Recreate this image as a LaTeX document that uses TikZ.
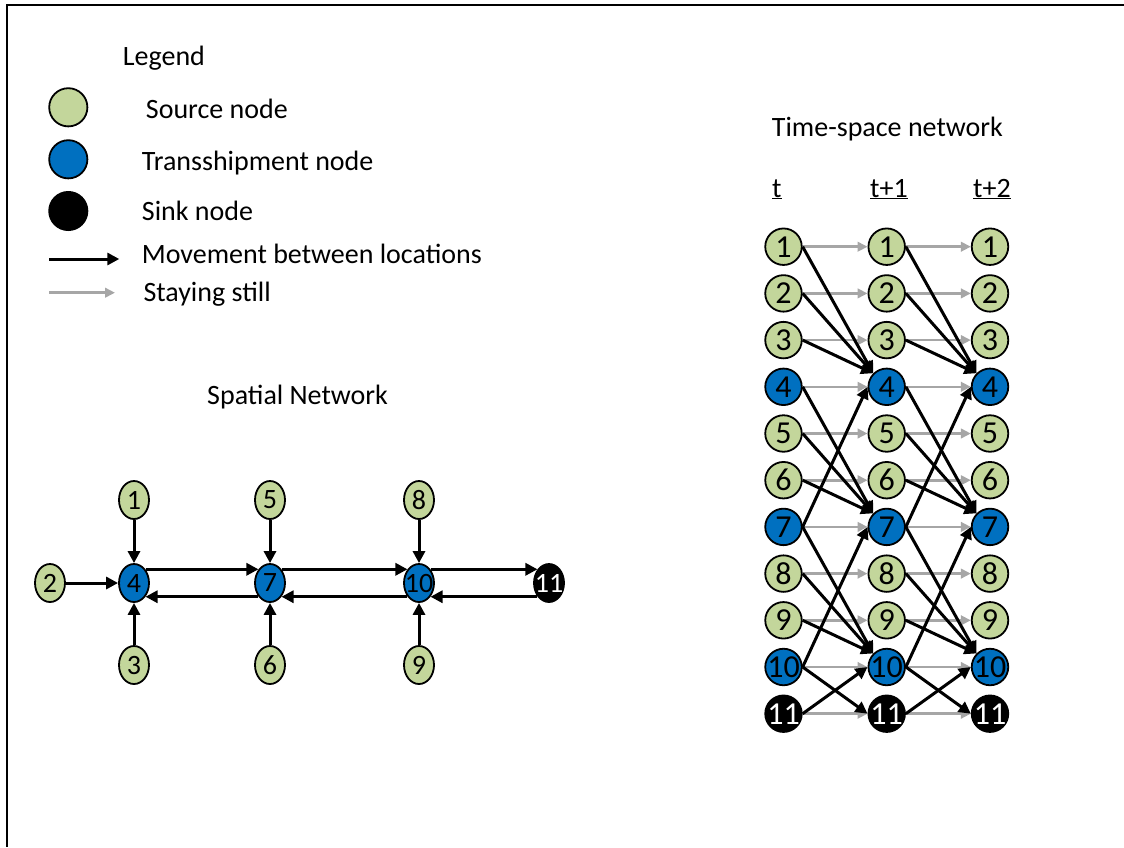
\documentclass[tikz,border=0pt]{standalone}
\usepackage{fontspec}
\setmainfont{Carlito}
\usetikzlibrary{arrows.meta,shapes.geometric}

\definecolor{srcgreen}{HTML}{C3D69B}
\definecolor{trnblue}{HTML}{0070C0}
\definecolor{staygray}{HTML}{A6A6A6}

\begin{document}
\begin{tikzpicture}[x=1pt,y=-1pt,font=\fontsize{28}{34}\selectfont,
    srcnode/.style={circle,draw=black,line width=1.8pt,fill=srcgreen,inner sep=-4pt,minimum size=36.5pt,
        font=\fontsize{32}{38}\selectfont},
    trnnode/.style={srcnode,fill=trnblue},
    snknode/.style={srcnode,fill=black,text=white},
    spnode/.style={ellipse,draw=black,line width=1.8pt,fill=srcgreen,inner xsep=-7pt,inner ysep=0pt,
        minimum width=30pt,minimum height=38pt},
    txt/.style={anchor=base west,inner sep=0pt},
    movearr/.style={line width=3pt,-{Triangle[length=12pt,width=12pt]}},
    stayarr/.style={line width=2.6pt,staygray,-{Triangle[length=10pt,width=9.5pt]}}]
    \useasboundingbox (0,0) rectangle (1124,847);
    \draw[line width=1.8pt] (1124,5) -- (7,5) -- (7,847);

    % legend
    \node[txt] (legend) at (122.7,65.5) {Legend};
    \node[srcnode,minimum size=38.2pt] (lsrc) at (68.3,107.3) {};
    \node[trnnode,minimum size=38.2pt] (ltrn) at (68.3,159.3) {};
    \node[snknode,minimum size=38.2pt] (lsnk) at (68.3,211) {};
    \node[txt] (tsrc) at (145.7,118) {Source node};
    \node[txt] (ttrn) at (141.7,170) {Transshipment node};
    \node[txt] (tsnk) at (141.7,220.5) {Sink node};
    \node[txt] (tmove) at (141.7,263) {Movement between locations};
    \node[txt] (tstay) at (143.3,301) {Staying still};
    \coordinate (mvA) at (49.3,259);
    \coordinate (mvB) at (119.3,259);
    \coordinate (stA) at (49.3,292.7);
    \coordinate (stB) at (115,292.7);
    \draw[movearr] (mvA) -- (mvB);
    \draw[stayarr] (stA) -- (stB);

    % spatial network
    \node[txt] (sptitle) at (207,404) {Spatial Network};
    \node[spnode] (s1) at (134,500) {1};
    \node[spnode] (s2) at (50,583) {2};
    \node[spnode] (s3) at (134,665) {3};
    \node[spnode,fill=trnblue] (s4) at (134,583) {4};
    \node[spnode] (s5) at (270,500) {5};
    \node[spnode] (s6) at (270,665) {6};
    \node[spnode,fill=trnblue] (s7) at (270,583) {7};
    \node[spnode] (s8) at (419,500) {8};
    \node[spnode] (s9) at (419,665) {9};
    \node[spnode,fill=trnblue] (s10) at (419,583) {10};
    \node[spnode,fill=black,text=white] (s11) at (549,583) {11};
    \draw[movearr] (s1.south) -- (s4.north);
    \draw[movearr] (s3.north) -- (s4.south);
    \draw[movearr] (s2.east) -- (s4.west);
    \draw[movearr] (s5.south) -- (s7.north);
    \draw[movearr] (s6.north) -- (s7.south);
    \draw[movearr] (s8.south) -- (s10.north);
    \draw[movearr] (s9.north) -- (s10.south);
    \draw[movearr] (s4.50) -- (s7.130);
    \draw[movearr] (s7.-130) -- (s4.-50);
    \draw[movearr] (s7.50) -- (s10.130);
    \draw[movearr] (s10.-130) -- (s7.-50);
    \draw[movearr] (s10.50) -- (s11.130);
    \draw[movearr] (s11.-130) -- (s10.-50);

    % time-space network
    \node[txt] (tstitle) at (771.7,136) {Time-space network};
    \node[txt] (ht0) at (772,197) {\underline{t}};
    \node[txt] (ht1) at (870,197) {\underline{t+1}};
    \node[txt] (ht2) at (973,197) {\underline{t+2}};
    \foreach \col/\xx in {a/783.5,b/886.7,c/990}{
        \foreach \k/\kind in {1/srcnode,2/srcnode,3/srcnode,4/trnnode,5/srcnode,6/srcnode,
                              7/trnnode,8/srcnode,9/srcnode,10/trnnode,11/snknode}
            \node[\kind] (\col\k) at (\xx,{246.7+(\k-1)*46.7}) {\k};
    }
    \foreach \p/\q in {a/b,b/c}{
        \foreach \k in {1,...,11}
            \draw[stayarr] (\p\k.east) -- (\q\k.west);
        \foreach \i/\j in {1/4,2/4,3/4,4/7,5/7,6/7,7/10,8/10,9/10}
            \draw[movearr] (\p\i.east) -- (\q\j.north west);
        \foreach \i/\j in {10/11,7/4,10/7,11/10}
            \draw[movearr] (\p\i.east) -- (\q\j.west);
    }
\end{tikzpicture}
\end{document}
